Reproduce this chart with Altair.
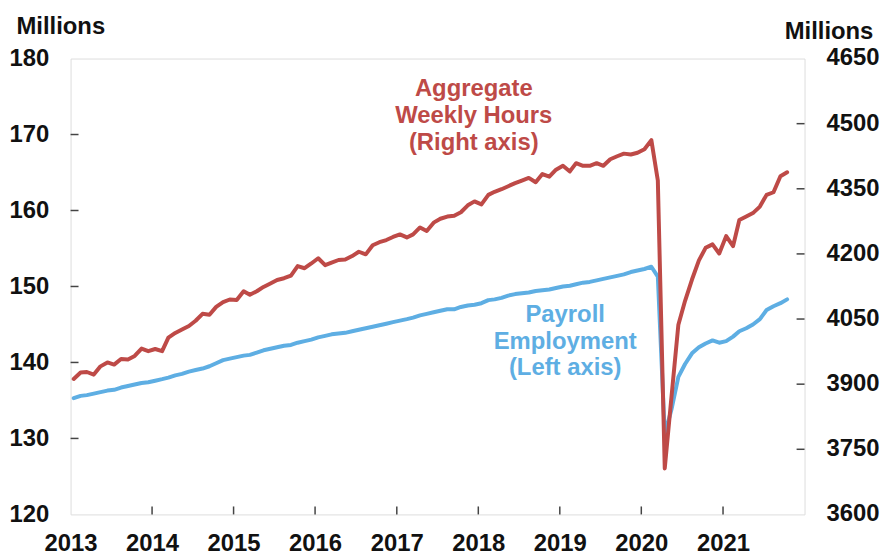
import altair as alt
import pandas as pd

# ---------------- data ----------------
n_months = 106  # Jan 2013 .. Oct 2021 (mid-month points)

payroll = [
    135.3, 135.6, 135.7, 135.9, 136.1, 136.3, 136.4, 136.7, 136.9, 137.1, 137.3, 137.4,
    137.6, 137.8, 138.0, 138.3, 138.5, 138.8, 139.0, 139.2, 139.5, 139.9, 140.3, 140.5,
    140.7, 140.9, 141.0, 141.3, 141.6, 141.8, 142.0, 142.2, 142.3, 142.6, 142.8, 143.0,
    143.3, 143.5, 143.7, 143.8, 143.9, 144.1, 144.3, 144.5, 144.7, 144.9, 145.1, 145.3,
    145.5, 145.7, 145.9, 146.2, 146.4, 146.6, 146.8, 147.0, 147.0, 147.3, 147.5, 147.6,
    147.8, 148.2, 148.3, 148.5, 148.8, 149.0, 149.1, 149.2, 149.4, 149.5, 149.6, 149.8,
    150.0, 150.1, 150.3, 150.5, 150.6, 150.8, 151.0, 151.2, 151.4, 151.6, 151.9, 152.1,
    152.3, 152.6, 151.3, 130.5, 133.8, 138.1, 139.8, 141.2, 142.0, 142.5, 142.9, 142.6,
    142.8, 143.4, 144.1, 144.5, 145.0, 145.7, 146.9, 147.4, 147.8, 148.3,
]

hours = [
    3912, 3927, 3928, 3922, 3941, 3950, 3945, 3958, 3957, 3965, 3982, 3976,
    3981, 3976, 4007, 4018, 4026, 4034, 4046, 4062, 4060, 4078, 4089, 4095,
    4094, 4114, 4106, 4114, 4124, 4132, 4140, 4144, 4150, 4172, 4167, 4178,
    4190, 4174, 4180, 4186, 4187, 4195, 4205, 4199, 4220, 4227, 4232, 4239,
    4245, 4238, 4245, 4261, 4253, 4272, 4281, 4286, 4288, 4296, 4312, 4321,
    4314, 4336, 4343, 4349, 4356, 4363, 4369, 4375, 4365, 4384, 4378, 4394,
    4403, 4390, 4409, 4403, 4403, 4409, 4403, 4418, 4425, 4431, 4429, 4433,
    4441, 4462, 4369, 3706, 3870, 4037, 4092, 4141, 4185, 4214, 4222, 4201,
    4241, 4218, 4278, 4286, 4294, 4309, 4336, 4342, 4379, 4388,
]

year_ticks = [2013, 2014, 2015, 2016, 2017, 2018, 2019, 2020, 2021]
left_ticks = [120, 130, 140, 150, 160, 170, 180]
right_ticks = [3600, 3750, 3900, 4050, 4200, 4350, 4500, 4650]
left_domain = [120, 180]
right_domain = [3600, 4650]
x_start, x_end = "2013-01-01", "2022-01-01"

hours_label = "Aggregate\nWeekly Hours\n(Right axis)"
payroll_label = "Payroll\nEmployment\n(Left axis)"
unit_title = "Millions"

# ---------------- style ----------------
RED = "#BE4A47"
BLUE = "#5EAEE3"
FONT = "Liberation Sans"
FS = 24
W, H = 739, 459
TICK = "#444"
TL = 8  # tick length in pixels

# map right-axis values onto the left-axis scale (both axes span the same height)
to_left = (f"{left_domain[0]} + (datum.{{f}} - {right_domain[0]}) * "
           f"{(left_domain[1] - left_domain[0])} / {(right_domain[1] - right_domain[0])}")

dates = pd.date_range("2013-01-01", periods=n_months, freq="MS") + pd.Timedelta(days=14)
df = pd.DataFrame({"date": dates, "payroll": payroll, "hours": hours})

x_domain = [alt.DateTime(year=2013, month=1, date=1), alt.DateTime(year=2022, month=1, date=1)]
x_scale = alt.Scale(domain=x_domain)
y_scale = alt.Scale(domain=left_domain, zero=False, nice=False)
year_values = [alt.DateTime(year=y, month=1, date=1) for y in year_ticks]

label_style = dict(labelFontSize=FS, labelFont=FONT, labelFontWeight="bold", labelColor="#111",
                   labelFlush=False, labelOverlap=False, grid=False, domain=False, ticks=False)

x_axis = alt.Axis(values=year_values, format="%Y", labelPadding=17, title=None,
                  orient="bottom", **label_style)
y_axis = alt.Axis(orient="left", values=left_ticks, labelPadding=22,
                  title=unit_title, titleX=-55, titleY=-25, titleAngle=0, titleAlign="left",
                  titleBaseline="alphabetic", titleFontSize=FS, titleFont=FONT,
                  titleFontWeight="bold", titleColor="#111", **label_style)


def X(field):
    return alt.X(field, scale=x_scale, axis=x_axis)


def Y(field):
    return alt.Y(field, scale=y_scale, axis=y_axis)


blue_line = alt.Chart(df).mark_line(color=BLUE, strokeWidth=4, strokeJoin="round", strokeCap="round").encode(
    x=X("date:T"), y=Y("payroll:Q"),
)

red_line = alt.Chart(df).transform_calculate(
    hours_left=to_left.format(f="hours")
).mark_line(color=RED, strokeWidth=4, strokeJoin="round", strokeCap="round").encode(
    x=X("date:T"), y=Y("hours_left:Q"),
)

# inward-pointing tick marks, drawn as short two-point line segments
t0, t1 = pd.Timestamp(x_start), pd.Timestamp(x_end)
tick_dt = (t1 - t0) * (TL / W)            # tick length along x, in time units
tick_dy = (left_domain[1] - left_domain[0]) * TL / H   # tick length along y, in axis units

xt_rows = []
for y in year_ticks[1:]:
    d = pd.Timestamp(f"{y}-01-01")
    xt_rows += [{"id": y, "date": d, "y": left_domain[0]}, {"id": y, "date": d, "y": left_domain[0] + tick_dy}]
lt_rows = []
for v in left_ticks[1:-1]:
    lt_rows += [{"id": v, "date": t0, "y": v}, {"id": v, "date": t0 + tick_dt, "y": v}]
rt_rows = []
for v in right_ticks[1:-1]:
    rt_rows += [{"id": v, "date": t1 - tick_dt, "v": v}, {"id": v, "date": t1, "v": v}]

tick_mark = dict(color=TICK, strokeWidth=1.5)
x_tick_lines = alt.Chart(pd.DataFrame(xt_rows)).mark_line(**tick_mark).encode(
    x=X("date:T"), y=Y("y:Q"), detail="id:N",
)
left_tick_lines = alt.Chart(pd.DataFrame(lt_rows)).mark_line(**tick_mark).encode(
    x=X("date:T"), y=Y("y:Q"), detail="id:N",
)
right_tick_lines = alt.Chart(pd.DataFrame(rt_rows)).transform_calculate(
    y=to_left.format(f="v")
).mark_line(**tick_mark).encode(
    x=X("date:T"), y=Y("y:Q"), detail="id:N",
)

# right axis labels and title
rt_df = pd.DataFrame({"v": right_ticks})
right_labels = alt.Chart(rt_df).transform_calculate(
    v_left=to_left.format(f="v")
).mark_text(font=FONT, fontSize=FS, fontWeight="bold", color="#111", align="left", baseline="middle").encode(
    y=Y("v_left:Q"), x=alt.value(W + 22), text=alt.Text("v:Q", format="d"),
)

one = alt.Data(values=[{"a": 1}])
right_title = alt.Chart(one).mark_text(
    font=FONT, fontSize=FS, fontWeight="bold", color="#111", align="left", baseline="alphabetic",
).encode(x=alt.value(W - 20), y=alt.value(-20), text=alt.value(unit_title))

hours_text = alt.Chart(one).mark_text(
    color=RED, font=FONT, fontSize=FS, fontWeight="bold", align="center",
    baseline="alphabetic", lineBreak="\n", lineHeight=27,
).encode(x=alt.value(406), y=alt.value(38), text=alt.value(hours_label))

payroll_text = alt.Chart(one).mark_text(
    color=BLUE, font=FONT, fontSize=FS, fontWeight="bold", align="center",
    baseline="alphabetic", lineBreak="\n", lineHeight=27,
).encode(x=alt.value(498), y=alt.value(265), text=alt.value(payroll_label))

chart = alt.layer(
    blue_line, red_line, x_tick_lines, left_tick_lines, right_tick_lines,
    right_labels, right_title, hours_text, payroll_text,
).properties(
    width=W, height=H,
    autosize=alt.AutoSizeParams(type="none"),
    padding={"left": 63, "top": 49, "right": 78, "bottom": 42},
).configure_view(stroke="#444", strokeWidth=1.8).configure(font=FONT)

chart.save("out.html", embed_options={"renderer": "svg", "actions": False})
